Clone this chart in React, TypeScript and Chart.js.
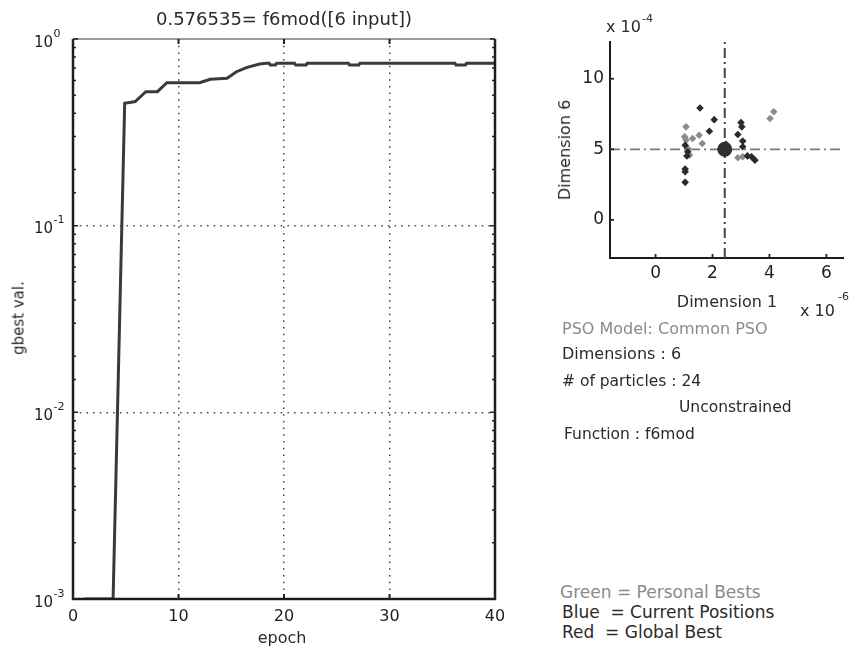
import React, { useEffect, useRef } from 'react';
import { Chart, registerables } from 'chart.js';

Chart.register(...registerables);

const FONT = "'DejaVu Sans', Verdana, sans-serif";
const DARK = '#2a2a2a';
const GRAY = '#8a8a8a';

// ---- Left chart: gbest value per epoch (log scale) ----
const epochs = [1, 3.8, 4.9, 5.5, 5.9, 6.9, 8.0, 8.9, 12.0, 13.0, 14.6, 15.5, 16.5, 17.7, 18.3, 18.6, 18.7, 19.2, 19.3, 21.0, 21.1, 22.1, 22.2, 26.1, 26.2, 27.1, 27.2, 36.2, 36.3, 37.2, 37.3, 40];
const gbestVals = [0.001, 0.001, 0.453, 0.458, 0.462, 0.522, 0.522, 0.583, 0.583, 0.608, 0.616, 0.668, 0.705, 0.735, 0.741, 0.741, 0.725, 0.725, 0.741, 0.741, 0.725, 0.725, 0.741, 0.741, 0.725, 0.725, 0.741, 0.741, 0.725, 0.725, 0.741, 0.741];
const epochRange = [0, 40];
const epochStep = 10;
const gbestRange = [0.001, 1];

// ---- Right chart: particle positions (Dimension 1 x1e-6, Dimension 6 x1e-4) ----
const personalX = [1.07, 1.02, 1.07, 1.30, 1.53, 1.64, 1.13, 1.19, 2.89, 3.06, 3.22, 4.02, 4.15];
const personalY = [6.59, 5.88, 5.65, 5.76, 6.00, 5.41, 5.06, 4.59, 4.40, 4.47, 4.55, 7.18, 7.66];
const currentX = [1.56, 2.06, 1.89, 3.00, 3.03, 2.89, 3.06, 3.06, 1.04, 1.13, 1.10, 1.04, 1.04, 1.04, 3.23, 3.37, 3.49, 2.47];
const currentY = [7.93, 7.10, 6.28, 6.89, 6.59, 6.05, 5.58, 5.18, 5.29, 4.82, 4.52, 3.60, 3.41, 2.66, 4.52, 4.47, 4.23, 5.35];
const globalBestX = [2.43];
const globalBestY = [5.0];
const dim1Range = [-1.6, 6.6];
const dim6Range = [-2.7, 12.6];
const dim1Ticks = [0, 2, 4, 6];
const dim6Ticks = [0, 5, 10];

const leftDeco = {
  id: 'leftDeco',
  afterDatasetsDraw(chart: any) {
    const { ctx, chartArea: a, scales } = chart;
    const x = scales.x;
    const y = scales.y;
    ctx.save();
    // frame
    ctx.strokeStyle = '#777';
    ctx.lineWidth = 1.5;
    ctx.beginPath();
    ctx.moveTo(a.left, a.top);
    ctx.lineTo(a.right, a.top);
    ctx.stroke();
    ctx.strokeStyle = '#1c1c1c';
    ctx.lineWidth = 2.5;
    ctx.beginPath();
    ctx.moveTo(a.left, a.top);
    ctx.lineTo(a.left, a.bottom);
    ctx.lineTo(a.right, a.bottom);
    ctx.lineTo(a.right, a.top);
    ctx.stroke();
    // x ticks inward (top and bottom)
    ctx.lineWidth = 2;
    ctx.strokeStyle = '#222';
    x.ticks.forEach((t: any) => {
      const p = x.getPixelForValue(t.value);
      ctx.beginPath();
      ctx.moveTo(p, a.top);
      ctx.lineTo(p, a.top + 5);
      ctx.moveTo(p, a.bottom);
      ctx.lineTo(p, a.bottom - 5);
      ctx.stroke();
    });
    // y ticks inward (left and right), minor shorter
    ctx.lineWidth = 1.5;
    y.ticks.forEach((t: any) => {
      const p = y.getPixelForValue(t.value);
      const lg = Math.log10(t.value);
      const major = Math.abs(lg - Math.round(lg)) < 1e-6;
      const len = major ? 5 : 3;
      ctx.beginPath();
      ctx.moveTo(a.left, p);
      ctx.lineTo(a.left + len, p);
      ctx.moveTo(a.right, p);
      ctx.lineTo(a.right - len, p);
      ctx.stroke();
    });
    // y tick labels 10^n
    ctx.fillStyle = '#1e1e1e';
    y.ticks.forEach((t: any) => {
      const lg = Math.log10(t.value);
      if (Math.abs(lg - Math.round(lg)) > 1e-6) return;
      const p = y.getPixelForValue(t.value);
      const e = Math.round(lg);
      ctx.font = `15px ${FONT}`;
      ctx.textAlign = 'right';
      ctx.textBaseline = 'alphabetic';
      ctx.fillText('10', a.left - 20, p + 7.5);
      ctx.font = `11px ${FONT}`;
      ctx.textAlign = 'left';
      ctx.fillText(String(e), a.left - 19.5, p - 2.3);
    });
    ctx.restore();
  },
};

const rightDeco = {
  id: 'rightDeco',
  afterDatasetsDraw(chart: any) {
    const { ctx, chartArea: a, scales } = chart;
    const x = scales.x;
    const y = scales.y;
    ctx.save();
    ctx.strokeStyle = '#222';
    ctx.lineWidth = 1.8;
    x.ticks.forEach((t: any) => {
      const p = x.getPixelForValue(t.value);
      ctx.beginPath();
      ctx.moveTo(p, a.bottom);
      ctx.lineTo(p, a.bottom - 4);
      ctx.stroke();
    });
    y.ticks.forEach((t: any) => {
      const p = y.getPixelForValue(t.value);
      ctx.beginPath();
      ctx.moveTo(a.left, p);
      ctx.lineTo(a.left + 4, p);
      ctx.stroke();
    });
    ctx.restore();
  },
};

function Txt({ x, y, size, color = DARK, align = 'left', text }: { x: number; y: number; size: number; color?: string; align?: string; text: string }) {
  const tx = align === 'center' ? 'translateX(-50%)' : align === 'right' ? 'translateX(-100%)' : 'none';
  return (
    <div
      style={{
        position: 'absolute',
        left: x,
        top: y - 0.846 * size,
        fontFamily: FONT,
        fontSize: size,
        lineHeight: `${size}px`,
        color,
        whiteSpace: 'pre',
        transform: tx,
      }}
    >
      {text}
    </div>
  );
}

function VTxt({ cx, cy, size, text, color = DARK }: { cx: number; cy: number; size: number; text: string; color?: string }) {
  return (
    <div
      style={{
        position: 'absolute',
        left: cx,
        top: cy,
        fontFamily: FONT,
        fontSize: size,
        lineHeight: `${size}px`,
        color,
        whiteSpace: 'pre',
        transform: 'translate(-50%,-50%) rotate(-90deg)',
      }}
    >
      {text}
    </div>
  );
}

export default function App() {
  const leftRef = useRef<HTMLCanvasElement | null>(null);
  const rightRef = useRef<HTMLCanvasElement | null>(null);

  useEffect(() => {
    const left = new Chart(leftRef.current as HTMLCanvasElement, {
      type: 'line',
      data: {
        datasets: [
          {
            data: epochs.map((e, i) => ({ x: e, y: gbestVals[i] })),
            borderColor: '#3a3a3a',
            borderWidth: 3,
            pointRadius: 0,
            tension: 0,
            fill: false,
          },
        ],
      },
      options: {
        animation: false,
        responsive: false,
        maintainAspectRatio: false,
        layout: { padding: { left: 0, right: 65, top: 39, bottom: 0 } },
        plugins: { legend: { display: false }, tooltip: { enabled: false }, title: { display: false } },
        scales: {
          x: {
            type: 'linear',
            min: epochRange[0],
            max: epochRange[1],
            afterFit: (s: any) => {
              s.height = 56;
            },
            ticks: { stepSize: epochStep, font: { family: FONT, size: 16 }, color: '#1e1e1e', padding: 8, maxRotation: 0 },
            grid: {
              drawTicks: false,
              lineWidth: 1.5,
              color: (c: any) => (c.tick && c.tick.value > epochRange[0] && c.tick.value < epochRange[1] ? '#444' : 'rgba(0,0,0,0)'),
            },
            border: { display: false, dash: [1.5, 5.2] },
          },
          y: {
            type: 'logarithmic',
            min: gbestRange[0],
            max: gbestRange[1],
            afterFit: (s: any) => {
              s.width = 73;
            },
            ticks: { display: false },
            grid: {
              drawTicks: false,
              lineWidth: 1.5,
              color: (c: any) => {
                if (!c.tick) return 'rgba(0,0,0,0)';
                const v = c.tick.value;
                const lg = Math.log10(v);
                const major = Math.abs(lg - Math.round(lg)) < 1e-6;
                return major && v > gbestRange[0] && v < gbestRange[1] ? '#444' : 'rgba(0,0,0,0)';
              },
            },
            border: { display: false, dash: [1.5, 5.2] },
          },
        },
      },
      plugins: [leftDeco],
    } as any);

    const dash = [10, 4, 2, 4];
    const right = new Chart(rightRef.current as HTMLCanvasElement, {
      type: 'scatter',
      data: {
        datasets: [
          {
            label: 'Global Best',
            data: globalBestX.map((x, i) => ({ x, y: globalBestY[i] })),
            pointStyle: 'circle',
            pointRadius: 7.5,
            backgroundColor: '#303030',
            borderColor: '#303030',
            borderWidth: 0,
            order: 0,
          },
          {
            label: 'Current Positions',
            data: currentX.map((x, i) => ({ x, y: currentY[i] })),
            pointStyle: 'rectRot',
            pointRadius: 3.8,
            backgroundColor: '#2b2b2b',
            borderColor: '#2b2b2b',
            borderWidth: 0,
            order: 1,
          },
          {
            label: 'Personal Bests',
            data: personalX.map((x, i) => ({ x, y: personalY[i] })),
            pointStyle: 'rectRot',
            pointRadius: 3.8,
            backgroundColor: '#8c8c8c',
            borderColor: '#8c8c8c',
            borderWidth: 0,
            order: 2,
          },
          {
            type: 'line',
            label: 'vline',
            data: [
              { x: globalBestX[0], y: dim6Range[0] },
              { x: globalBestX[0], y: dim6Range[1] },
            ],
            borderColor: '#444',
            borderWidth: 2,
            borderDash: dash,
            pointRadius: 0,
            showLine: true,
            order: 3,
          },
          {
            type: 'line',
            label: 'hline',
            data: [
              { x: dim1Range[0], y: globalBestY[0] },
              { x: dim1Range[1], y: globalBestY[0] },
            ],
            borderColor: '#7a7a7a',
            borderWidth: 1.8,
            borderDash: dash,
            pointRadius: 0,
            showLine: true,
            order: 3,
          },
        ],
      },
      options: {
        animation: false,
        responsive: false,
        maintainAspectRatio: false,
        layout: { padding: { left: 0, right: 0, top: 42, bottom: 0 } },
        plugins: { legend: { display: false }, tooltip: { enabled: false } },
        scales: {
          x: {
            type: 'linear',
            min: dim1Range[0],
            max: dim1Range[1],
            afterFit: (s: any) => {
              s.height = 62;
            },
            afterBuildTicks: (s: any) => {
              s.ticks = dim1Ticks.map((v) => ({ value: v }));
            },
            ticks: { font: { family: FONT, size: 17 }, color: '#1e1e1e', padding: 5, maxRotation: 0, autoSkip: false },
            grid: { display: false, drawTicks: false },
            border: { display: true, color: '#1c1c1c', width: 2 },
          },
          y: {
            type: 'linear',
            min: dim6Range[0],
            max: dim6Range[1],
            afterFit: (s: any) => {
              s.width = 50;
            },
            afterBuildTicks: (s: any) => {
              s.ticks = dim6Ticks.map((v) => ({ value: v }));
            },
            ticks: { font: { family: FONT, size: 17 }, color: '#1e1e1e', padding: 6, autoSkip: false },
            grid: { display: false, drawTicks: false },
            border: { display: true, color: '#1c1c1c', width: 2 },
          },
        },
      },
      plugins: [rightDeco],
    } as any);

    return () => {
      left.destroy();
      right.destroy();
    };
  }, []);

  return (
    <div style={{ position: 'absolute', left: 0, top: 0, width: 851, height: 655, background: '#fff', overflow: 'hidden' }}>
      <canvas ref={leftRef} width={560} height={655} style={{ position: 'absolute', left: 0, top: 0, width: 560, height: 655 }} />
      <canvas ref={rightRef} width={291} height={320} style={{ position: 'absolute', left: 560, top: 0, width: 291, height: 320 }} />

      <Txt x={284} y={25} size={18} align="center" text="0.576535= f6mod([6 input])" />
      <Txt x={282} y={644} size={16} align="center" text="epoch" />
      <VTxt cx={19} cy={318} size={15} text="gbest val." />

      <Txt x={606} y={33} size={16} text="x 10" />
      <Txt x={642} y={22} size={11} text="-4" />
      <VTxt cx={565} cy={150} size={16} text="Dimension 6" />
      <Txt x={727} y={308} size={16} align="center" text="Dimension 1" />
      <Txt x={800} y={317} size={16} text="x 10" />
      <Txt x={838} y={300} size={11} text="-6" />

      <Txt x={562} y={335} size={16} color={GRAY} text="PSO Model: Common PSO" />
      <Txt x={562} y={360} size={16} text="Dimensions : 6" />
      <Txt x={562} y={387} size={15.5} text="# of particles : 24" />
      <Txt x={679} y={413} size={15.5} text="Unconstrained" />
      <Txt x={564} y={440} size={15.5} text="Function : f6mod" />

      <Txt x={560} y={598} size={17} color={GRAY} text="Green = Personal Bests" />
      <Txt x={562} y={618} size={17} text="Blue  = Current Positions" />
      <Txt x={562} y={638} size={17} text="Red  = Global Best" />
    </div>
  );
}
